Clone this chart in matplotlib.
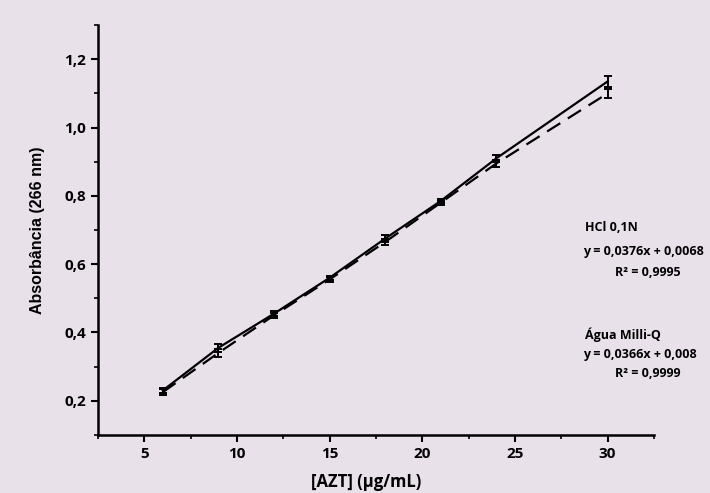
import matplotlib
matplotlib.use("Agg")
import matplotlib.pyplot as plt
from matplotlib.ticker import MultipleLocator, FuncFormatter

conc = [6, 9, 12, 15, 18, 21, 24, 30]
abs_hcl = [0.230, 0.355, 0.455, 0.560, 0.675, 0.785, 0.910, 1.135]
err_hcl = [0.008, 0.012, 0.008, 0.006, 0.010, 0.006, 0.010, 0.015]
abs_agua = [0.225, 0.340, 0.450, 0.555, 0.665, 0.780, 0.895, 1.100]
err_agua = [0.008, 0.012, 0.008, 0.006, 0.010, 0.006, 0.010, 0.012]

bg = "#e9e1ea"
fig = plt.figure(figsize=(7.1, 4.93), dpi=100, facecolor=bg)
ax = fig.add_axes([0.138, 0.118, 0.783, 0.831], facecolor=bg)

ax.errorbar(conc, abs_hcl, yerr=err_hcl, color="black", lw=1.6, ls="-",
            capsize=3, elinewidth=1.4, capthick=1.4)
ax.errorbar(conc, abs_agua, yerr=err_agua, color="black", lw=1.6, ls=(0, (7, 4)),
            capsize=3, elinewidth=1.4, capthick=1.4)

ax.set_xlim(2.5, 32.5)
ax.set_ylim(0.1, 1.3)
ax.xaxis.set_major_locator(MultipleLocator(5))
ax.xaxis.set_minor_locator(MultipleLocator(2.5))
ax.yaxis.set_major_locator(MultipleLocator(0.2))
ax.yaxis.set_minor_locator(MultipleLocator(0.1))
ax.yaxis.set_major_formatter(FuncFormatter(lambda v, p: f"{v:.1f}".replace(".", ",")))

for s in ["top", "right"]:
    ax.spines[s].set_visible(False)
for s in ["left", "bottom"]:
    ax.spines[s].set_linewidth(1.8)
ax.tick_params(which="major", direction="out", length=5, width=1.5)
ax.tick_params(which="minor", direction="out", length=3, width=1.2)
for lab in ax.get_xticklabels() + ax.get_yticklabels():
    lab.set_fontweight("bold")
    lab.set_fontsize(11)
    lab.set_family("Open Sans")

ax.set_xlabel("[AZT] (µg/mL)", fontsize=12, fontweight="bold", family="Open Sans")
ax.xaxis.set_label_coords(0.482, -0.092)
ax.set_ylabel("Absorbância (266 nm)", fontsize=11.5, fontweight="bold", family="Liberation Sans", labelpad=14)

tk = dict(fontsize=9, fontweight="bold", family="Open Sans", color="black")
fig.text(0.824, 0.538, "HCl 0,1N", ha="left", va="center", **tk)
fig.text(0.821, 0.489, "y = 0,0376x + 0,0068", ha="left", va="center", **tk)
fig.text(0.866, 0.448, "R² = 0,9995", ha="left", va="center", **tk)
fig.text(0.824, 0.320, "Água Milli-Q", ha="left", va="center", **tk)
fig.text(0.821, 0.280, "y = 0,0366x + 0,008", ha="left", va="center", **tk)
fig.text(0.866, 0.242, "R² = 0,9999", ha="left", va="center", **tk)

fig.savefig("out.png", dpi=100, facecolor=bg)
